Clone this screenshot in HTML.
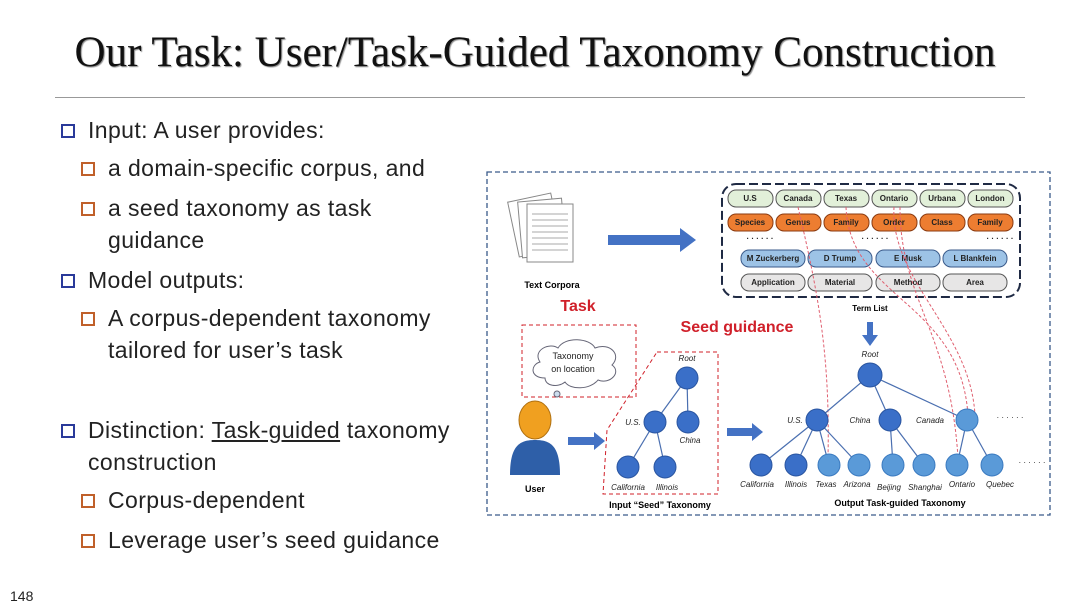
<!DOCTYPE html>
<html><head><meta charset="utf-8"><style>
body{margin:0;background:#fff;}
.w{position:relative;width:1080px;height:607px;overflow:hidden;font-family:"Liberation Sans",sans-serif;}
.t{position:absolute;left:0;width:1070px;top:28px;text-align:center;font-family:"Liberation Serif",serif;font-size:43px;color:#111;text-shadow:1px 1px 1px #888;}
.hr{position:absolute;left:55px;width:970px;top:97px;height:1px;background:#999;}
.b{position:absolute;font-size:23px;letter-spacing:0.4px;color:#222;line-height:32px;white-space:nowrap;}
.b i{position:absolute;left:-27px;top:10px;width:10px;height:10px;border:2px solid #2a3a9a;}
.s i{border-color:#c0602a;}
.n{position:absolute;left:10px;top:588px;font-size:14px;color:#222;}
</style></head><body><div class="w">
<div class="t">Our Task: User/Task-Guided Taxonomy Construction</div>
<div class="hr"></div>
<div class="b" style="left:88px;top:114px"><i></i>Input: A user provides:</div>
<div class="b s" style="left:108px;top:152px"><i></i>a domain-specific corpus, and</div>
<div class="b s" style="left:108px;top:192px"><i></i>a seed taxonomy as task<br>guidance</div>
<div class="b" style="left:88px;top:264px"><i></i>Model outputs:</div>
<div class="b s" style="left:108px;top:302px"><i></i>A corpus-dependent taxonomy<br>tailored for user’s task</div>
<div class="b" style="left:88px;top:414px"><i></i>Distinction: <u>Task-guided</u> taxonomy<br>construction</div>
<div class="b s" style="left:108px;top:484px"><i></i>Corpus-dependent</div>
<div class="b s" style="left:108px;top:524px"><i></i>Leverage user’s seed guidance</div>
<div class="n">148</div>
<svg style="position:absolute;left:0;top:0" width="1080" height="607" font-family="Liberation Sans, sans-serif">
<rect x="487" y="172" width="563" height="343" fill="none" stroke="#3a5a8a" stroke-dasharray="5,3" stroke-width="1.3"/>
<g stroke="#888" fill="#fff"><rect x="513" y="197" width="44" height="56" transform="rotate(-12 535 225)"/><rect x="520" y="200" width="44" height="56" transform="rotate(-5 542 228)"/><rect x="527" y="204" width="46" height="58"/></g>
<g stroke="#aaa"><line x1="532" y1="214" x2="568" y2="214"/><line x1="532" y1="220" x2="568" y2="220"/><line x1="532" y1="226" x2="568" y2="226"/><line x1="532" y1="232" x2="568" y2="232"/><line x1="532" y1="238" x2="568" y2="238"/><line x1="532" y1="244" x2="568" y2="244"/><line x1="532" y1="250" x2="568" y2="250"/></g>
<text x="552" y="288" font-size="9" font-weight="bold" text-anchor="middle">Text Corpora</text>
<polygon points="608,235 680,235 680,228 696,240 680,252 680,245 608,245" fill="#4472c4"/>
<rect x="722" y="184" width="298" height="113" rx="14" fill="none" stroke="#1f2a44" stroke-width="2" stroke-dasharray="9,4"/>
<g font-size="8" font-weight="bold" text-anchor="middle" stroke-width="1">
<g fill="#e2f0d9" stroke="#555"><rect x="728" y="190" width="45" height="17" rx="8"/><rect x="776" y="190" width="45" height="17" rx="8"/><rect x="824" y="190" width="45" height="17" rx="8"/><rect x="872" y="190" width="45" height="17" rx="8"/><rect x="920" y="190" width="45" height="17" rx="8"/><rect x="968" y="190" width="45" height="17" rx="8"/></g>
<g fill="#ed7d31" stroke="#8a3a10"><rect x="728" y="214" width="45" height="17" rx="8"/><rect x="776" y="214" width="45" height="17" rx="8"/><rect x="824" y="214" width="45" height="17" rx="8"/><rect x="872" y="214" width="45" height="17" rx="8"/><rect x="920" y="214" width="45" height="17" rx="8"/><rect x="968" y="214" width="45" height="17" rx="8"/></g>
<g fill="#9dc3e6" stroke="#3a5a8a"><rect x="741" y="250" width="64" height="17" rx="8"/><rect x="808" y="250" width="64" height="17" rx="8"/><rect x="876" y="250" width="64" height="17" rx="8"/><rect x="943" y="250" width="64" height="17" rx="8"/></g>
<g fill="#e7e6e6" stroke="#555"><rect x="741" y="274" width="64" height="17" rx="8"/><rect x="808" y="274" width="64" height="17" rx="8"/><rect x="876" y="274" width="64" height="17" rx="8"/><rect x="943" y="274" width="64" height="17" rx="8"/></g>
<g fill="#222"><text x="750" y="201">U.S</text><text x="798" y="201">Canada</text><text x="846" y="201">Texas</text><text x="894" y="201">Ontario</text><text x="942" y="201">Urbana</text><text x="990" y="201">London</text>
<text x="750" y="225">Species</text><text x="798" y="225">Genus</text><text x="846" y="225">Family</text><text x="894" y="225">Order</text><text x="942" y="225">Class</text><text x="990" y="225">Family</text>
<text x="773" y="261">M Zuckerberg</text><text x="840" y="261">D Trump</text><text x="908" y="261">E Musk</text><text x="975" y="261">L Blankfein</text>
<text x="773" y="285">Application</text><text x="840" y="285">Material</text><text x="908" y="285">Method</text><text x="975" y="285">Area</text>
<text x="760" y="241">· · · · · ·</text><text x="875" y="241">· · · · · ·</text><text x="1000" y="241">· · · · · ·</text></g>
<text x="870" y="311">Term List</text></g>
<polygon points="867,322 873,322 873,335 878,335 870,346 862,335 867,335" fill="#4472c4"/>
<text x="578" y="311" font-size="16" font-weight="bold" fill="#d0202a" text-anchor="middle">Task</text>
<text x="737" y="332" font-size="16" font-weight="bold" fill="#d0202a" text-anchor="middle">Seed guidance</text>
<g fill="none" stroke="#e06070" stroke-dasharray="3,2" stroke-width="1"><path d="M798,207 C820,300 830,360 828,458"/><path d="M846,207 C850,300 960,300 968,415"/><path d="M894,207 C890,280 970,330 975,415"/><path d="M900,207 C900,300 950,330 958,458"/></g>
<rect x="522" y="325" width="114" height="72" fill="none" stroke="#d0202a" stroke-dasharray="4,3"/>
<path d="M545,378 C530,378 530,365 540,362 C532,350 550,342 558,348 C565,336 590,338 595,348 C610,342 622,355 612,365 C622,372 610,385 598,380 C590,390 570,390 565,382 C558,388 545,386 545,378Z" fill="#fff" stroke="#667"/>
<circle cx="557" cy="394" r="3" fill="#cde" stroke="#667"/>
<text x="573" y="359" font-size="9" text-anchor="middle" fill="#222">Taxonomy</text><text x="573" y="372" font-size="9" text-anchor="middle" fill="#222">on location</text>
<path d="M510,475 C510,445 520,440 535,440 C550,440 560,445 560,475Z" fill="#2e5fa8"/>
<ellipse cx="535" cy="420" rx="16" ry="19" fill="#f0a020" stroke="#b07010"/>
<text x="535" y="492" font-size="9" font-weight="bold" text-anchor="middle">User</text>
<polygon points="568,437 594,437 594,432 605,441 594,450 594,445 568,445" fill="#4472c4"/>
<path d="M657,352 L718,352 L718,494 L603,494 L607,430 Z" fill="none" stroke="#d0202a" stroke-dasharray="4,3"/>
<g stroke="#4a6fb0" stroke-width="1.2"><line x1="687" y1="378" x2="655" y2="422"/><line x1="687" y1="378" x2="688" y2="422"/><line x1="655" y1="422" x2="628" y2="467"/><line x1="655" y1="422" x2="665" y2="467"/>
<line x1="870" y1="375" x2="817" y2="420"/><line x1="870" y1="375" x2="890" y2="420"/><line x1="870" y1="375" x2="967" y2="420"/>
<line x1="817" y1="420" x2="761" y2="465"/><line x1="817" y1="420" x2="796" y2="465"/><line x1="817" y1="420" x2="829" y2="465"/><line x1="817" y1="420" x2="859" y2="465"/><line x1="890" y1="420" x2="893" y2="465"/><line x1="890" y1="420" x2="924" y2="465"/><line x1="967" y1="420" x2="957" y2="465"/><line x1="967" y1="420" x2="992" y2="465"/></g>
<g fill="#3a6fc8" stroke="#2a55a0"><circle cx="687" cy="378" r="11"/><circle cx="655" cy="422" r="11"/><circle cx="688" cy="422" r="11"/><circle cx="628" cy="467" r="11"/><circle cx="665" cy="467" r="11"/>
<circle cx="870" cy="375" r="12"/><circle cx="817" cy="420" r="11"/><circle cx="890" cy="420" r="11"/><circle cx="761" cy="465" r="11"/><circle cx="796" cy="465" r="11"/></g>
<g fill="#5a9ad8" stroke="#3a7ac0"><circle cx="967" cy="420" r="11"/><circle cx="829" cy="465" r="11"/><circle cx="859" cy="465" r="11"/><circle cx="893" cy="465" r="11"/><circle cx="924" cy="465" r="11"/><circle cx="957" cy="465" r="11"/><circle cx="992" cy="465" r="11"/></g>
<g font-size="8" font-style="italic" fill="#222" text-anchor="middle"><text x="687" y="361">Root</text><text x="633" y="425">U.S.</text><text x="690" y="443">China</text><text x="628" y="490">California</text><text x="667" y="490">Illinois</text>
<text x="870" y="357">Root</text><text x="795" y="423">U.S.</text><text x="860" y="423">China</text><text x="930" y="423">Canada</text>
<text x="757" y="487">California</text><text x="796" y="487">Illinois</text><text x="826" y="487">Texas</text><text x="857" y="487">Arizona</text><text x="889" y="490">Beijing</text><text x="925" y="490">Shanghai</text><text x="962" y="487">Ontario</text><text x="1000" y="487">Quebec</text>
<text x="1010" y="420" font-style="normal">· · · · · ·</text><text x="1032" y="465" font-style="normal">· · · · · ·</text></g>
<polygon points="727,428 752,428 752,423 763,432 752,441 752,436 727,436" fill="#4472c4"/>
<text x="660" y="508" font-size="9" font-weight="bold" text-anchor="middle">Input “Seed” Taxonomy</text>
<text x="900" y="506" font-size="9" font-weight="bold" text-anchor="middle">Output Task-guided Taxonomy</text>
</svg>
</div></body></html>
